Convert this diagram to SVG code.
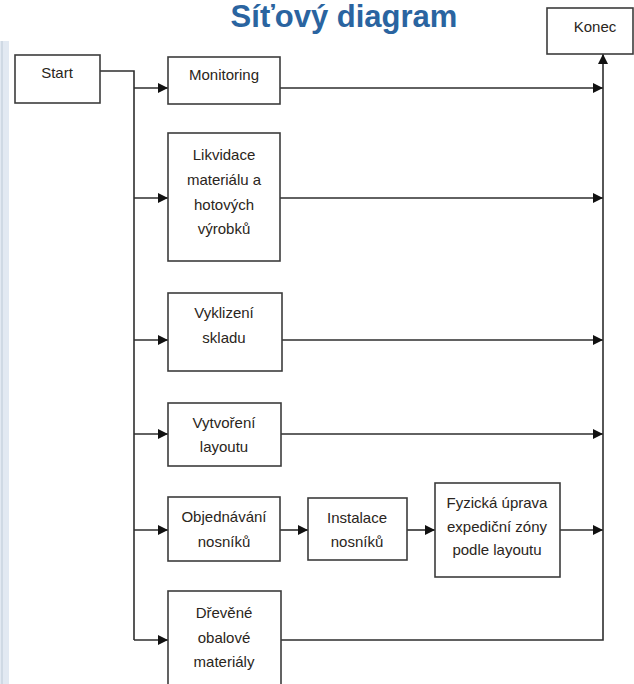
<svg xmlns="http://www.w3.org/2000/svg" width="634" height="684" viewBox="0 0 634 684">
<defs>
<style>
.box{fill:#fff;stroke:#3c3c3c;stroke-width:1.6}
.t{font-family:"Liberation Sans",Arial,sans-serif;font-size:15px;fill:#2a2520;text-anchor:middle}
.c{fill:none;stroke:#2e2e2e;stroke-width:1.6}
.title{font-family:"Liberation Sans",Arial,sans-serif;font-size:31px;font-weight:bold;fill:#2a64a0;text-anchor:middle}
</style>
<marker id="ah" viewBox="0 0 10 10" refX="10" refY="5" markerWidth="10" markerHeight="10" markerUnits="userSpaceOnUse" orient="auto">
<path d="M0,0 L10,5 L0,10 z" fill="#111"/>
</marker>
</defs>
<rect x="0" y="0" width="634" height="684" fill="#fff"/>
<rect x="0" y="41" width="9" height="643" fill="#e2e9f2"/>
<line x1="2" y1="41" x2="2" y2="684" stroke="#c9d3df" stroke-width="1.5"/>
<text class="title" x="344" y="27">Síťový diagram</text>

<g id="connectors">
<path class="c" d="M100,71 H134 V198" stroke-width="2.2"/>
<path class="c" d="M134,198 V640"/>
<path class="c" d="M134,88 H168" marker-end="url(#ah)"/>
<path class="c" d="M134,198 H168" marker-end="url(#ah)"/>
<path class="c" d="M134,340 H168" marker-end="url(#ah)"/>
<path class="c" d="M134,434 H168" marker-end="url(#ah)"/>
<path class="c" d="M134,530 H168" marker-end="url(#ah)"/>
<path class="c" d="M134,640 H168" marker-end="url(#ah)"/>
<path class="c" d="M280,88 H603" marker-end="url(#ah)"/>
<path class="c" d="M280,198 H603" marker-end="url(#ah)"/>
<path class="c" d="M282,340 H603" marker-end="url(#ah)"/>
<path class="c" d="M281,434 H603" marker-end="url(#ah)"/>
<path class="c" d="M280,530 H308" marker-end="url(#ah)"/>
<path class="c" d="M407,530 H435" marker-end="url(#ah)"/>
<path class="c" d="M560,530 H603" marker-end="url(#ah)"/>
<path class="c" d="M281,640 H603 V54" marker-end="url(#ah)"/>
</g>

<g id="start"><rect class="box" x="15" y="55" width="85" height="48"/><text class="t" x="57" y="78">Start</text></g>
<g id="konec"><rect class="box" x="547" y="8" width="86" height="46"/><text class="t" x="595" y="32">Konec</text></g>
<g id="monitoring"><rect class="box" x="168" y="57" width="112" height="47"/><text class="t" x="224" y="80">Monitoring</text></g>
<g id="likvidace"><rect class="box" x="168" y="133" width="112" height="128"/>
<text class="t" x="224" y="160">Likvidace</text><text class="t" x="224" y="185">materiálu a</text><text class="t" x="224" y="210">hotových</text><text class="t" x="224" y="234">výrobků</text></g>
<g id="vyklizeni"><rect class="box" x="168" y="293" width="114" height="78"/>
<text class="t" x="224" y="318">Vyklizení</text><text class="t" x="224" y="343">skladu</text></g>
<g id="vytvoreni"><rect class="box" x="168" y="403" width="113" height="63"/>
<text class="t" x="224" y="428">Vytvoření</text><text class="t" x="224" y="452">layoutu</text></g>
<g id="objednavani"><rect class="box" x="168" y="497" width="112" height="64"/>
<text class="t" x="224" y="522">Objednávání</text><text class="t" x="224" y="547">nosníků</text></g>
<g id="instalace"><rect class="box" x="308" y="498" width="99" height="62"/>
<text class="t" x="357" y="523">Instalace</text><text class="t" x="357" y="547">nosníků</text></g>
<g id="fyzicka"><rect class="box" x="435" y="483" width="125" height="94"/>
<text class="t" x="497" y="508">Fyzická úprava</text><text class="t" x="497" y="532">expediční zóny</text><text class="t" x="497" y="555">podle layoutu</text></g>
<g id="drevene"><rect class="box" x="168" y="591" width="113" height="100"/>
<text class="t" x="224" y="618">Dřevěné</text><text class="t" x="224" y="643">obalové</text><text class="t" x="224" y="667">materiály</text></g>
</svg>
